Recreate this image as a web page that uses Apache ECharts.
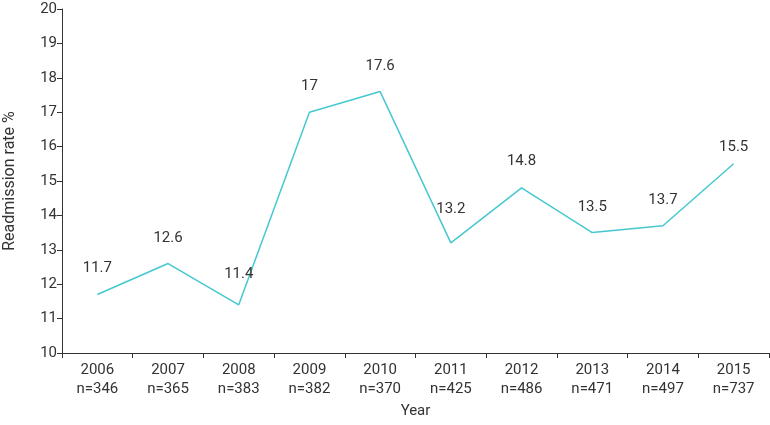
<!DOCTYPE html>
<html>
<head>
<meta charset="utf-8">
<script src="https://cdn.jsdelivr.net/npm/echarts@6/dist/echarts.min.js"></script>
<style>html,body{margin:0;padding:0;background:#fff}#c{width:770px;height:425px}</style>
</head>
<body>
<div id="c"></div>
<script>
const years = ['2006','2007','2008','2009','2010','2011','2012','2013','2014','2015'];
const counts = ['n=346','n=365','n=383','n=382','n=370','n=425','n=486','n=471','n=497','n=737'];
const rates = [11.7, 12.6, 11.4, 17, 17.6, 13.2, 14.8, 13.5, 13.7, 15.5];
const labelGap = [18, 17, 23, 18, 17, 26, 19, 17, 17, 9];

const chart = echarts.init(document.getElementById('c'));
const font = 'Roboto, "DejaVu Sans", sans-serif';
chart.setOption({
  animation: false,
  grid: { left: 62, right: 1, top: 9, bottom: 72, outerBoundsMode: 'none', containLabel: false },
  xAxis: {
    type: 'category',
    data: years.map((y, i) => y + '\n' + counts[i]),
    boundaryGap: true,
    name: 'Year', nameLocation: 'middle', nameGap: 51,
    nameTextStyle: { color: '#333', fontSize: 15, fontFamily: font },
    axisLine: { lineStyle: { color: '#333', width: 1 } },
    axisTick: { show: true, length: 5, lineStyle: { color: '#333' } },
    axisLabel: { color: '#333', fontSize: 15, fontFamily: font, lineHeight: 19, margin: 8, interval: 0 },
    splitLine: { show: false }
  },
  yAxis: {
    type: 'value', min: 10, max: 20, interval: 1,
    name: 'Readmission rate %', nameLocation: 'middle', nameGap: 44, nameRotate: 90,
    nameTextStyle: { color: '#333', fontSize: 16, fontFamily: font },
    axisLine: { show: true, lineStyle: { color: '#333', width: 1 } },
    axisTick: { show: true, length: 5, lineStyle: { color: '#333' } },
    axisLabel: { color: '#333', fontSize: 15, fontFamily: font, margin: 5 },
    splitLine: { show: false }
  },
  series: [{
    type: 'line',
    data: rates.map((v, i) => ({ value: v, label: { show: true, distance: labelGap[i] } })),
    symbol: 'circle',
    symbolSize: 1,
    showSymbol: true,
    itemStyle: { color: 'rgba(0,0,0,0)' },
    lineStyle: { color: '#45c8d0', width: 1.5 },
    label: { show: true, position: 'top', color: '#333', fontSize: 15, fontFamily: font },
    labelLayout: { hideOverlap: false },
    emphasis: { disabled: true }
  }]
});
</script>
</body>
</html>
